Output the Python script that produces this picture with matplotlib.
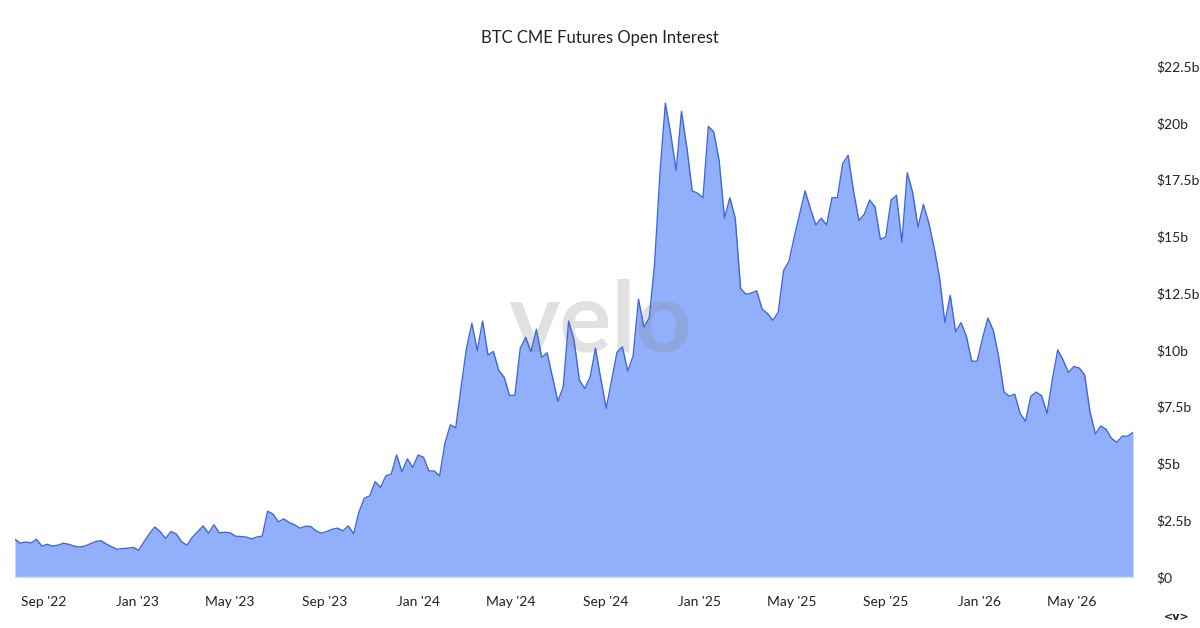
import numpy as np
import pandas as pd
import matplotlib
matplotlib.use('Agg')
import matplotlib.pyplot as plt
import matplotlib.dates as mdates
from matplotlib.ticker import FuncFormatter, MultipleLocator

plt.rcParams['font.family'] = ['Lato', 'DejaVu Sans']

# weekly open interest, $ billions
start_date = '2022-07-25'
open_interest = [
    1.66, 1.49, 1.54, 1.50, 1.66, 1.36, 1.44, 1.36, 1.40, 1.49,
    1.44, 1.36, 1.32, 1.36, 1.46, 1.56, 1.60, 1.45, 1.33, 1.22,
    1.25, 1.27, 1.30, 1.18, 1.55, 1.90, 2.20, 2.00, 1.70, 2.00,
    1.90, 1.55, 1.40, 1.75, 2.00, 2.25, 1.93,
    2.30, 1.95, 1.97, 1.95, 1.80, 1.78, 1.76, 1.68, 1.76, 1.80,
    2.90, 2.77, 2.43, 2.56, 2.40, 2.30, 2.15, 2.23, 2.23, 2.03,
    1.93, 2.00, 2.10, 2.15, 2.03, 2.25, 1.90, 2.87, 3.47, 3.57,
    4.20, 3.95, 4.45, 4.53, 5.37, 4.63, 5.20, 4.83, 5.37, 5.27,
    4.67, 4.67, 4.45, 5.90, 6.70, 6.57, 8.37, 10.07, 11.17, 9.97,
    11.27, 9.77, 9.93, 9.10, 8.80, 8.00, 8.00, 10.07, 10.55, 9.93,
    10.90, 9.67, 9.87, 8.80, 7.73, 8.37, 11.27, 10.43, 8.67, 8.30,
    8.80, 10.07, 8.70, 7.43, 8.67, 9.90, 10.13, 9.07, 9.73, 12.23,
    11.00, 11.40, 13.80, 17.80, 20.86, 19.50, 17.90, 20.50, 18.90, 17.00,
    16.90, 16.70, 19.84, 19.60, 18.35, 15.80, 16.70, 15.80, 12.70, 12.45,
    12.50, 12.60, 11.80, 11.60, 11.30, 11.66, 13.50, 13.90, 15.00, 16.00,
    17.00, 16.20, 15.50, 15.80, 15.50, 16.70, 16.70, 18.20, 18.57, 17.00,
    15.70, 15.97, 16.60, 16.30, 14.87, 14.97, 16.60, 16.80, 14.74, 17.80,
    16.94, 15.40, 16.40, 15.60, 14.50, 13.20, 11.20, 12.40, 10.80, 11.20,
    10.60, 9.50, 9.50, 10.50, 11.40, 10.87, 9.70, 8.14, 7.96, 8.05,
    7.20, 6.86, 7.96, 8.14, 7.98, 7.20, 8.70, 10.00, 9.55, 9.00,
    9.27, 9.20, 8.90, 7.27, 6.30, 6.65, 6.50, 6.10, 5.93, 6.20,
    6.20, 6.37,
]
dates = pd.date_range(start_date, periods=len(open_interest), freq='7D')

fill_color = '#92affb'
line_color = '#3d67dc'

fig = plt.figure(figsize=(12, 6.28), dpi=100)
ax = fig.add_axes([15/1200, 51/628, 1118/1200, 511/628])

ax.fill_between(dates, open_interest, 0, color=fill_color, lw=0, zorder=2)
ax.plot(dates, open_interest, color=line_color, lw=1.0, zorder=3)

ax.set_xlim(dates[0], dates[-1])
ax.set_ylim(0, 22.5)

ax.yaxis.set_major_locator(MultipleLocator(2.5))
def fmt_money(v, pos):
    if v == 0:
        return '$0'
    return f'${v:g}b'
ax.yaxis.set_major_formatter(FuncFormatter(fmt_money))
ax.yaxis.tick_right()
ax.tick_params(axis='y', length=0, pad=17, labelsize=10, labelcolor='#222222')

ax.xaxis.set_major_locator(mdates.MonthLocator(bymonth=[1, 5, 9]))
ax.xaxis.set_major_formatter(mdates.DateFormatter("%b '%y"))
ax.tick_params(axis='x', length=0, pad=14, labelsize=10, labelcolor='#222222')

for s in ['top', 'left', 'right']:
    ax.spines[s].set_visible(False)
ax.spines['bottom'].set_color('#d9e0f0')
ax.spines['bottom'].set_linewidth(1)
ax.spines['bottom'].set_zorder(4)

fig.text(0.5, 1 - 38/628, 'BTC CME Futures Open Interest', ha='center', va='center',
         fontsize=12, color='#222222')

# watermark, over the fill but under the line
ax.text(600.5/1200, 1 - 351/628, 'velo', transform=fig.transFigure, ha='center',
        va='baseline', fontsize=70, fontweight='bold', color='#888888', alpha=0.25,
        zorder=2.5)

fig.text(1177/1200, 1 - 617/628, '<v>', ha='center', va='center', fontsize=8,
         fontweight='bold', color='#222222', family='DejaVu Sans')

fig.savefig('out.png', dpi=100, facecolor='white')
